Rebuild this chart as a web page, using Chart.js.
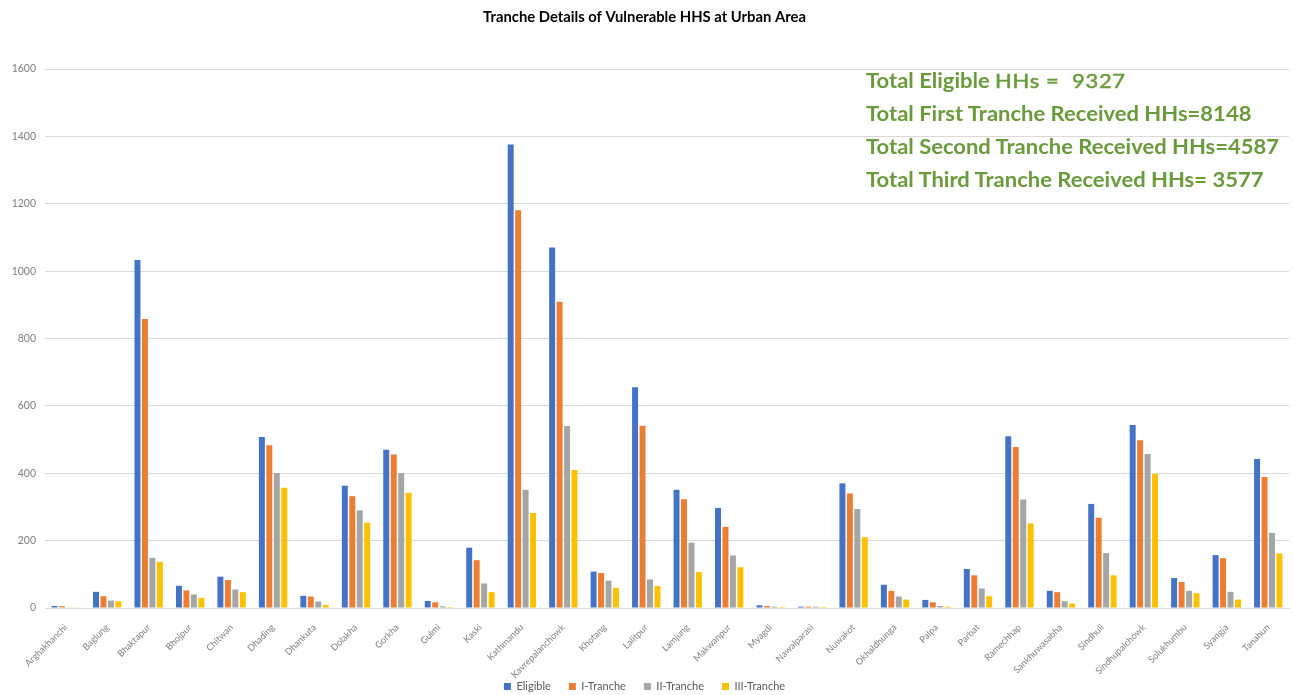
<!DOCTYPE html>
<html>
<head>
<meta charset="utf-8">
<script src="https://cdn.jsdelivr.net/npm/chart.js@4/dist/chart.umd.min.js"></script>
<style>
    html, body { margin: 0; padding: 0; background: #fff; }
    #wrap { position: relative; width: 1293px; height: 695px; }
    #totaux {
        position: absolute;
        left: 866px;
        top: 64px;
        font-family: Lato, "Open Sans", sans-serif;
        font-size: 20px;
        line-height: 33px;
        color: #6a9a3c;
        font-weight: bold;
        white-space: nowrap;
        transform: scaleX(1.1);
        transform-origin: left top;
    }
    #totaux .leger {
        font-weight: normal;
        -webkit-text-stroke: 0.5px #6a9a3c;
        letter-spacing: 0.6px;
    }
</style>
</head>
<body>
<div id="wrap">
    <canvas id="chartTranche" width="1293" height="695"></canvas>
    <div id="totaux">
        <div>Total Eligible <span class="leger">HHs =&nbsp; 9327</span></div>
        <div>Total First Tranche Received HHs=8148</div>
        <div>Total Second Tranche Received HHs=4587</div>
        <div>Total Third Tranche Received HHs= 3577</div>
    </div>
</div>
<script>
// Districts (axe X)
const districts = ["Arghakhanchi", "Baglung", "Bhaktapur", "Bhojpur", "Chitwan", "Dhading", "Dhankuta",
    "Dolakha", "Gorkha", "Gulmi", "Kaski", "Kathmandu", "Kavrepalanchowk", "Khotang", "Lalitpur",
    "Lamjung", "Makwanpur", "Myagdi", "Nawalparasi", "Nuwakot", "Okhaldhunga", "Palpa", "Parbat",
    "Ramechhap", "Sankhuwasabha", "Sindhuli", "Sindhupalchowk", "Solukhumbu", "Syangja", "Tanahun"];

// Valeurs
const eligible = [6, 48, 1033, 66, 93, 508, 36, 363, 470, 21, 179, 1376, 1070, 108, 655,
    351, 297, 8, 4, 370, 69, 24, 116, 510, 51, 309, 543, 89, 157, 442];
const trancheI = [5, 35, 858, 52, 83, 483, 34, 332, 456, 17, 142, 1181, 909, 104, 541,
    323, 241, 6, 4, 340, 51, 17, 97, 478, 47, 268, 498, 77, 148, 389];
const trancheII = [2, 22, 149, 40, 55, 401, 19, 290, 400, 5, 73, 351, 540, 81, 85,
    194, 156, 4, 4, 294, 34, 6, 58, 322, 20, 163, 457, 51, 48, 223];
const trancheIII = [2, 20, 137, 30, 47, 357, 9, 253, 342, 3, 47, 282, 410, 60, 65,
    107, 121, 3, 3, 210, 25, 4, 35, 251, 13, 97, 398, 44, 25, 162];

const yTicks = [0, 200, 400, 600, 800, 1000, 1200, 1400, 1600];

// Placer la légende tout en bas et laisser déborder les libellés de l'axe X
const ajustements = {
    id: 'ajustements',
    afterLayout(chart) {
        const legende = chart.legend;
        const pad = legende.options.labels.padding;
        legende.top = 687 - pad - 6;
        legende.bottom = legende.top + legende.height;
        chart.scales.x.bottom = chart.height;
    }
};

const canvas = document.getElementById('chartTranche');

new Chart(canvas, {
    type: 'bar',
    data: {
        labels: districts,
        datasets: [
            { label: 'Eligible', data: eligible, backgroundColor: '#4472C4' },
            { label: 'I-Tranche', data: trancheI, backgroundColor: '#ED7D31' },
            { label: 'II-Tranche', data: trancheII, backgroundColor: '#A5A5A5' },
            { label: 'III-Tranche', data: trancheIII, backgroundColor: '#FFC000' }
        ]
    },
    plugins: [ajustements],
    options: {
        responsive: false,
        animation: false,
        layout: { padding: { right: 4 } },
        datasets: {
            bar: { categoryPercentage: 0.72, barPercentage: 0.8 }
        },
        plugins: {
            title: {
                display: true,
                text: 'Tranche Details of Vulnerable HHS at Urban Area',
                color: '#000',
                font: { family: 'Lato', size: 14.8, weight: 'bold' },
                padding: { top: 8, bottom: 43.3 }
            },
            legend: {
                position: 'bottom',
                labels: {
                    color: '#595959',
                    font: { family: 'Lato', size: 11 },
                    boxWidth: 7,
                    boxHeight: 7,
                    padding: 18
                }
            },
            tooltip: { enabled: false }
        },
        scales: {
            x: {
                grid: { display: false },
                border: { color: '#d9d9d9' },
                ticks: {
                    color: '#7f7f7f',
                    font: { family: 'Lato', size: 9.2 },
                    minRotation: 45,
                    maxRotation: 45,
                    autoSkip: false,
                    padding: 6
                },
                // bas de la zone de tracé à y = 608
                afterFit: scale => { scale.height = 695 - 608 - scale.chart.legend.height; }
            },
            y: {
                min: 0,
                max: 1600,
                afterBuildTicks: scale => { scale.ticks = yTicks.map(v => ({ value: v })); },
                grid: { color: '#d9d9d9', drawTicks: false },
                border: { display: false },
                ticks: {
                    color: '#7f7f7f',
                    font: { family: 'Lato', size: 10.5 },
                    padding: 9,
                    callback: v => String(v)
                },
                afterFit: scale => { scale.width = 45; }
            }
        }
    }
});
</script>
</body>
</html>
